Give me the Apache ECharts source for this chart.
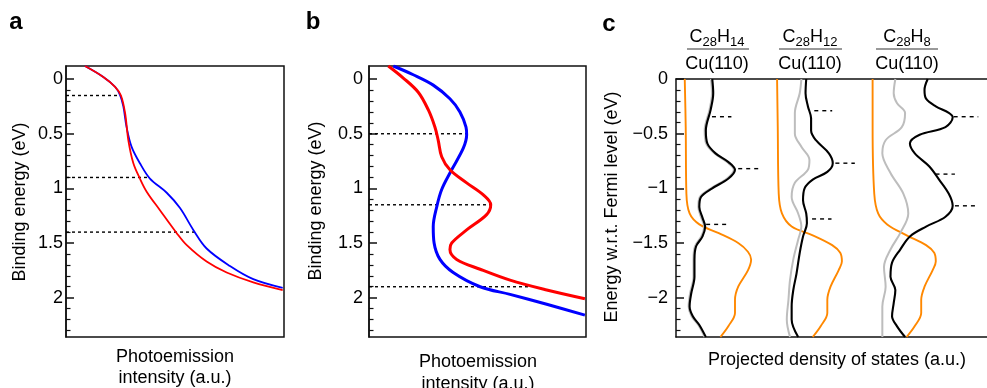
<!DOCTYPE html>
<html>
<head>
<meta charset="utf-8">
<script src="https://cdn.jsdelivr.net/npm/echarts@6/dist/echarts.min.js"></script>
<style>
html,body{margin:0;padding:0;background:#fff;}
#chart{width:987px;height:388px;}
</style>
</head>
<body>
<div id="chart"></div>
<script>
// ---------- DATA ----------
// Panel a: [intensity (a.u., 0-100), binding energy (eV)]
var aBlue = [[8.7,-0.12],[17.1,-0.02],[22.5,0.07],[24.8,0.146],[26.3,0.25],[27.8,0.44],[30.1,0.62],[33.9,0.77],[38.5,0.91],[46.2,1.04],[52.3,1.18],[58.4,1.38],[64.5,1.55],[75.2,1.71],[85.9,1.83],[99.4,1.91]];
var aRed  = [[8.7,-0.12],[17.1,-0.02],[22.5,0.07],[25.2,0.15],[27.1,0.31],[28.6,0.56],[30.9,0.77],[33.9,0.91],[37.0,1.03],[43.1,1.20],[50.8,1.41],[55.4,1.52],[64.5,1.67],[73.7,1.77],[85.9,1.86],[99.4,1.93]];
var aLevels = [0.15, 0.9, 1.4];
var aLevelEnds = [23.9, 37.6, 60.1];
// Panel b
var bBlue = [[11.2,-0.12],[20.4,-0.04],[29.6,0.055],[37.3,0.18],[41.9,0.30],[44.7,0.44],[45.0,0.51],[43.5,0.63],[38.1,0.83],[33.5,1.01],[31.2,1.17],[29.6,1.35],[30.0,1.50],[32.7,1.65],[38.8,1.77],[51.2,1.90],[65.0,1.97],[81.9,2.06],[99.5,2.16]];
var bRed  = [[8.9,-0.12],[15.8,-0.01],[22.7,0.12],[27.3,0.28],[30.4,0.44],[31.9,0.56],[33.5,0.71],[37.3,0.83],[45.0,0.95],[52.7,1.06],[56.1,1.15],[54.2,1.24],[45.0,1.38],[38.1,1.50],[37.3,1.56],[40.4,1.65],[51.2,1.74],[65.0,1.84],[81.9,1.93],[99.5,2.01]];
var bLevels = [0.5, 1.15, 1.9];
var bLevelEnds = [45, 55.8, 74.2];
// Panel c: [PDOS (a.u.), energy w.r.t. Fermi level (eV)]
var c1Orange = [[9,0],[10,-0.44],[10.7,-1.05],[14,-1.23],[24,-1.33],[44,-1.41],[64,-1.50],[74,-1.58],[77.3,-1.65],[74,-1.75],[64,-1.90],[60.7,-2.02],[60.7,-2.14],[54,-2.26],[45.7,-2.36]];
var c1Gray = [[36,0],[37,-0.13],[34.5,-0.28],[29.5,-0.47],[31,-0.59],[39.5,-0.68],[52.5,-0.76],[59.5,-0.83],[52.5,-0.91],[36,-1.0],[24.5,-1.08],[23,-1.17],[26,-1.27],[29,-1.35],[26,-1.44],[19.5,-1.53],[18,-1.65],[18,-1.81],[14.5,-1.96],[13,-2.08],[16,-2.17],[23,-2.25],[29.5,-2.36]];
var c1Black = [[37.3,0],[38.3,-0.13],[35.7,-0.28],[30.7,-0.47],[32.3,-0.59],[40.7,-0.68],[54,-0.76],[60.7,-0.83],[54,-0.91],[37.3,-1.00],[25.7,-1.08],[24,-1.17],[27.3,-1.27],[30,-1.35],[27.3,-1.44],[20.7,-1.53],[19,-1.65],[19,-1.81],[15.7,-1.96],[14,-2.08],[17.3,-2.17],[24,-2.25],[30.7,-2.36]];
var c2Orange = [[104,0],[104.7,-0.44],[105.7,-1.05],[109,-1.23],[119,-1.35],[140.7,-1.43],[160.7,-1.52],[169,-1.59],[170.7,-1.67],[167.3,-1.75],[159,-1.90],[155.7,-2.02],[155.7,-2.14],[149,-2.26],[140.7,-2.36]];
var c2Gray = [[129,0],[127.3,-0.13],[122.3,-0.31],[122.3,-0.50],[129,-0.62],[137.3,-0.74],[135.7,-0.83],[122.3,-0.95],[119,-1.08],[125.7,-1.23],[129,-1.35],[125.7,-1.47],[120.7,-1.65],[117.3,-1.84],[115.7,-2.02],[114,-2.20],[117.3,-2.36]];
var c2Black = [[134,0],[133.3,-0.13],[135.7,-0.25],[139,-0.36],[139,-0.47],[144,-0.56],[157.3,-0.68],[161.3,-0.77],[155.7,-0.85],[140.7,-0.92],[132.3,-1.00],[130.7,-1.11],[134,-1.23],[134.7,-1.32],[130.7,-1.44],[127.3,-1.59],[124,-1.78],[120.7,-1.93],[119,-2.08],[119,-2.20],[125.7,-2.36]];
var c3Orange = [[202.3,0],[202.3,-0.44],[204,-1.05],[208,-1.23],[217.3,-1.33],[237.3,-1.43],[257.3,-1.52],[265.7,-1.59],[267.3,-1.67],[264,-1.75],[255.7,-1.90],[252.3,-2.02],[252.3,-2.14],[245.7,-2.26],[237.3,-2.36]];
var c3Gray = [[225.7,0],[224,-0.13],[227.3,-0.22],[235.7,-0.31],[232.3,-0.44],[215.7,-0.56],[212.3,-0.68],[220.7,-0.86],[234,-1.05],[239,-1.23],[230.7,-1.41],[220.7,-1.56],[214,-1.72],[215.7,-1.90],[212.3,-2.08],[212.3,-2.36]];
var c3Black = [[259,0],[255.7,-0.10],[257.3,-0.18],[267.3,-0.25],[280.7,-0.31],[284.7,-0.35],[277.3,-0.44],[250.7,-0.51],[240.7,-0.59],[245.7,-0.68],[260.7,-0.80],[270.7,-0.92],[280.7,-1.05],[284.7,-1.16],[277.3,-1.26],[257.3,-1.35],[240.7,-1.44],[230.7,-1.56],[222.3,-1.68],[220.7,-1.81],[225.7,-1.93],[224,-2.05],[222.3,-2.17],[227.3,-2.26],[235.7,-2.36]];
// dotted level markers in c: [energy, xStart, xEnd]
var cLevels = [[-0.345,37,57],[-0.82,64,86],[-1.33,31,52],[-0.29,142.3,160.7],[-0.77,164,184],[-1.28,140,160],[-0.345,285.7,311],[-0.87,267,287],[-1.16,287,311]];
// tick values
var abMajor = [0, 0.5, 1, 1.5, 2];
var abMinor = [0.1,0.2,0.3,0.4,0.6,0.7,0.8,0.9,1.1,1.2,1.3,1.4,1.6,1.7,1.8,1.9,2.1,2.2,2.3];
var cMajor = [0, -0.5, -1, -1.5, -2];
var cMinor = [-0.1,-0.2,-0.3,-0.4,-0.6,-0.7,-0.8,-0.9,-1.1,-1.2,-1.3,-1.4,-1.6,-1.7,-1.8,-1.9,-2.1,-2.2,-2.3];

// ---------- CHART ----------
var FONT = 'Liberation Sans, Arial, Helvetica, sans-serif';
var BLACK = '#111';
var chart = echarts.init(document.getElementById('chart'), null, {renderer:'canvas'});

function majorY(grid, min, max, inverse, ticks, margin) {
  return {
    type:'value', gridIndex:grid, min:min, max:max, inverse:inverse, position:'left',
    axisLine:{show:true, onZero:false, lineStyle:{color:BLACK, width:1.5}},
    axisTick:{show:true, inside:true, length:8, customValues:ticks, lineStyle:{color:BLACK, width:1.5}},
    axisLabel:{show:true, customValues:ticks, margin:margin, fontFamily:FONT, fontSize:18, color:'#000',
      formatter:function(v){ return String(v).replace('-', '\u2212'); }},
    splitLine:{show:false}
  };
}
function minorY(grid, min, max, inverse, ticks) {
  return {
    type:'value', gridIndex:grid, min:min, max:max, inverse:inverse, position:'left',
    axisLine:{show:false},
    axisTick:{show:true, inside:true, length:4.5, customValues:ticks, lineStyle:{color:BLACK, width:1.2}},
    axisLabel:{show:false}, splitLine:{show:false}
  };
}
function plainX(grid, max, pos, showLine) {
  return {
    type:'value', gridIndex:grid, min:0, max:max, position:pos,
    axisLine:{show:showLine, onZero:false, lineStyle:{color:BLACK, width:1.5}},
    axisTick:{show:false}, axisLabel:{show:false}, splitLine:{show:false}
  };
}
function curve(data, xi, yi, color, width, z) {
  return {type:'line', xAxisIndex:xi, yAxisIndex:yi, data:data, smooth:0.35, showSymbol:false,
    lineStyle:{color:color, width:width}, z:z||3, silent:true, animation:false};
}
function dotted(data, xi, yi, dash, z) {
  return {type:'line', xAxisIndex:xi, yAxisIndex:yi, data:data, showSymbol:false,
    lineStyle:{color:'#000', width:1.4, type:dash}, z:z||2, silent:true, animation:false};
}

var series = [];
aLevels.forEach(function(e,i){ series.push(dotted([[0,e],[aLevelEnds[i],e]],0,0,[3,3])); });
series.push(curve(aBlue,0,0,'#0000ff',1.8,3));
series.push(curve(aRed,0,0,'#ff0000',1.8,4));
bLevels.forEach(function(e,i){ series.push(dotted([[0,e],[bLevelEnds[i],e]],1,2,[3,3])); });
series.push(curve(bBlue,1,2,'#0000ff',3,3));
series.push(curve(bRed,1,2,'#ff0000',3,4));
cLevels.forEach(function(l){ series.push(dotted([[l[1],l[0]],[l[2],l[0]]],2,4,[4,4])); });
[[c1Orange,c1Gray,c1Black],[c2Orange,c2Gray,c2Black],[c3Orange,c3Gray,c3Black]].forEach(function(g){
  series.push(curve(g[0],2,4,'#ff8800',1.9,3));
  series.push(curve(g[1],2,4,'#bdbdbd',2,4));
  series.push(curve(g[2],2,4,'#000000',2.1,5));
});

function txt(text, x, y, size, opts) {
  opts = opts || {};
  return {type:'text', x:x, y:y, rotation:opts.rotation||0, silent:true,
    style:{text:text, fontFamily:FONT, fontSize:size, fontWeight:opts.bold?'bold':'normal',
      fill:'#000', align:'center', verticalAlign:'middle', rich:opts.rich}};
}
var subRich = {
  n:{fontFamily:FONT, fontSize:18, fill:'#000', lineHeight:24, verticalAlign:'middle'},
  s:{fontFamily:FONT, fontSize:13, fill:'#000', lineHeight:24, verticalAlign:'bottom', padding:[8,0,0,0]}
};

var graphics = [
  txt('a', 16, 22, 24, {bold:true}),
  txt('b', 313, 22, 24, {bold:true}),
  txt('c', 609, 24, 24, {bold:true}),
  txt('Binding energy (eV)', 20, 202, 18, {rotation:Math.PI/2}),
  txt('Binding energy (eV)', 316, 201, 18, {rotation:Math.PI/2}),
  txt('Energy w.r.t. Fermi level (eV)', 612, 207, 18, {rotation:Math.PI/2}),
  txt('Photoemission', 175, 357, 18),
  txt('intensity (a.u.)', 175, 378, 18),
  txt('Photoemission', 478, 362, 18),
  txt('intensity (a.u.)', 478, 384, 18),
  txt('Projected density of states (a.u.)', 837, 360, 18),
  txt('{n|C}{s|28}{n|H}{s|14}', 717, 37, 18, {rich:subRich}),
  txt('{n|C}{s|28}{n|H}{s|12}', 810, 37, 18, {rich:subRich}),
  txt('{n|C}{s|28}{n|H}{s|8}', 907, 37, 18, {rich:subRich}),
  txt('Cu(110)', 717, 64, 18),
  txt('Cu(110)', 810, 64, 18),
  txt('Cu(110)', 907, 64, 18),
  {type:'line', silent:true, shape:{x1:687, y1:49, x2:749, y2:49}, style:{stroke:'#777', lineWidth:1.5}},
  {type:'line', silent:true, shape:{x1:779, y1:49, x2:842, y2:49}, style:{stroke:'#777', lineWidth:1.5}},
  {type:'line', silent:true, shape:{x1:876, y1:49, x2:938, y2:49}, style:{stroke:'#777', lineWidth:1.5}}
];

var option = {
  backgroundColor:'#fff',
  animation:false,
  grid:[
    {left:66, top:66, width:218, height:271, show:true, borderColor:BLACK, borderWidth:1.5, backgroundColor:'transparent'},
    {left:369, top:66, width:217, height:271, show:true, borderColor:BLACK, borderWidth:1.5, backgroundColor:'transparent'},
    {left:676, top:79, width:320, height:258, show:false}
  ],
  xAxis:[
    plainX(0,100,'bottom',false),
    plainX(1,100,'bottom',false),
    plainX(2,320,'bottom',true),
    plainX(2,320,'top',true)
  ],
  yAxis:[
    majorY(0,-0.12,2.36,true,abMajor,3),
    minorY(0,-0.12,2.36,true,abMinor),
    majorY(1,-0.12,2.36,true,abMajor,6),
    minorY(1,-0.12,2.36,true,abMinor),
    majorY(2,-2.36,0,false,cMajor,8),
    minorY(2,-2.36,0,false,cMinor)
  ],
  series:series,
  graphic:graphics
};
chart.setOption(option);
</script>
</body>
</html>
